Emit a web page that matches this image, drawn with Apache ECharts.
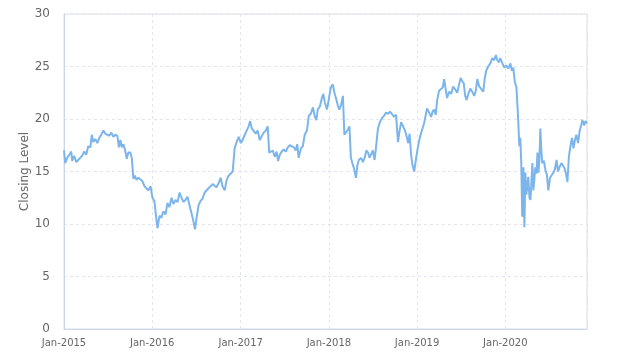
<!DOCTYPE html>
<html>
<head>
<meta charset="utf-8">
<script src="https://cdn.jsdelivr.net/npm/echarts@6/dist/echarts.min.js"></script>
<style>
html,body{margin:0;padding:0;background:#fff;}
#chart{width:624px;height:362px;}
</style>
</head>
<body>
<div id="chart"></div>
<script>
const dates = [
'2015-01-01','2015-01-06','2015-01-14','2015-01-23','2015-01-31','2015-02-04','2015-02-12','2015-02-21','2015-03-05','2015-03-17','2015-03-26','2015-04-03','2015-04-11','2015-04-20','2015-04-26','2015-05-02','2015-05-10','2015-05-19','2015-05-27','2015-06-04','2015-06-13','2015-06-21','2015-06-29','2015-07-07','2015-07-16','2015-07-24','2015-08-01','2015-08-10','2015-08-16','2015-08-22','2015-08-28','2015-09-04','2015-09-12','2015-09-18','2015-09-24','2015-10-03','2015-10-09','2015-10-15','2015-10-21','2015-10-28','2015-11-05','2015-11-13','2015-11-21','2015-11-30','2015-12-08','2015-12-16','2015-12-25',
'2016-01-02','2016-01-10','2016-01-18','2016-01-23','2016-01-31','2016-02-08','2016-02-16','2016-02-25','2016-03-04','2016-03-12','2016-03-21','2016-03-29','2016-04-06','2016-04-15','2016-04-23','2016-05-01','2016-05-09','2016-05-18','2016-05-26','2016-06-03','2016-06-12','2016-06-20','2016-06-26','2016-07-02','2016-07-11','2016-07-19','2016-07-27','2016-08-05','2016-08-13','2016-08-21','2016-08-29','2016-09-07','2016-09-15','2016-09-23','2016-10-02','2016-10-10','2016-10-18','2016-10-27','2016-11-04','2016-11-12','2016-11-20','2016-11-29','2016-12-07','2016-12-15','2016-12-24',
'2017-01-02','2017-01-09','2017-01-18','2017-01-26','2017-02-03','2017-02-09','2017-02-16','2017-02-24','2017-03-04','2017-03-12','2017-03-21','2017-03-29','2017-04-06','2017-04-15','2017-04-23','2017-04-29','2017-05-05','2017-05-14','2017-05-22','2017-05-30','2017-06-05','2017-06-12','2017-06-20','2017-06-28','2017-07-07','2017-07-15','2017-07-23','2017-07-31','2017-08-09','2017-08-17','2017-08-23','2017-08-29','2017-09-07','2017-09-15','2017-09-23','2017-10-02','2017-10-10','2017-10-18','2017-10-27','2017-11-04','2017-11-10','2017-11-16','2017-11-25','2017-12-03','2017-12-09','2017-12-15','2017-12-24','2017-12-31',
'2018-01-09','2018-01-17','2018-01-24','2018-01-30','2018-02-07','2018-02-13','2018-02-20','2018-02-28','2018-03-06','2018-03-12','2018-03-21','2018-03-27','2018-04-02','2018-04-08','2018-04-15','2018-04-23','2018-04-29','2018-05-05','2018-05-14','2018-05-22','2018-05-30','2018-06-05','2018-06-12','2018-06-18','2018-06-24','2018-07-02','2018-07-09','2018-07-15','2018-07-23','2018-07-31','2018-08-09','2018-08-17','2018-08-25','2018-09-03','2018-09-11','2018-09-19','2018-09-28','2018-10-06','2018-10-14','2018-10-20','2018-10-27','2018-11-04','2018-11-10','2018-11-16','2018-11-25','2018-12-01','2018-12-07','2018-12-13','2018-12-20','2018-12-28',
'2019-01-05','2019-01-13','2019-01-22','2019-01-30','2019-02-05','2019-02-11','2019-02-20','2019-02-28','2019-03-06','2019-03-12','2019-03-19','2019-03-25','2019-04-02','2019-04-10','2019-04-17','2019-04-23','2019-04-29','2019-05-05','2019-05-14','2019-05-22','2019-05-30','2019-06-08','2019-06-16','2019-06-24','2019-06-30','2019-07-07','2019-07-13','2019-07-19','2019-07-25','2019-08-01','2019-08-09','2019-08-17','2019-08-25','2019-09-01','2019-09-07','2019-09-15','2019-09-23','2019-10-02','2019-10-08','2019-10-14','2019-10-22','2019-10-31','2019-11-08','2019-11-16','2019-11-23','2019-11-29','2019-12-05','2019-12-11','2019-12-20','2019-12-28',
'2020-01-05','2020-01-13','2020-01-22','2020-01-28','2020-02-03','2020-02-09','2020-02-16','2020-02-20','2020-02-24','2020-02-28','2020-03-03','2020-03-07','2020-03-11','2020-03-16','2020-03-20','2020-03-24','2020-03-28','2020-04-01','2020-04-05','2020-04-10','2020-04-14','2020-04-18','2020-04-22','2020-04-26','2020-04-30','2020-05-04','2020-05-09','2020-05-13','2020-05-17','2020-05-21','2020-05-25','2020-05-29','2020-06-02','2020-06-09','2020-06-15','2020-06-21','2020-06-27','2020-07-04','2020-07-10','2020-07-18','2020-07-24','2020-07-31','2020-08-06','2020-08-12','2020-08-20','2020-08-27','2020-09-02','2020-09-08','2020-09-14','2020-09-20','2020-09-27','2020-10-03','2020-10-09','2020-10-15','2020-10-21','2020-10-28','2020-11-03','2020-11-09','2020-11-15','2020-11-22','2020-11-28','2020-12-04'
];
const closing = [
17.0,15.8,16.3,16.6,16.9,16.0,16.5,15.9,16.2,16.5,16.9,16.6,17.4,17.3,18.5,17.8,18.1,17.7,18.2,18.5,18.9,18.6,18.7,18.4,18.7,18.3,18.5,18.4,17.3,18.0,17.3,17.6,16.9,16.2,16.8,16.8,16.2,14.3,14.6,14.2,14.4,14.3,14.1,13.6,13.7,13.2,13.6,
12.5,12.2,10.5,9.6,10.8,10.6,11.2,10.9,12.0,11.6,12.5,11.9,12.3,12.1,13.0,12.5,12.1,12.3,12.6,11.8,11.0,10.2,9.5,10.5,11.8,12.2,12.4,13.0,12.9,13.4,13.5,13.8,13.7,13.5,13.9,14.4,13.6,13.2,14.2,14.6,14.6,15.0,17.2,17.8,18.3,
17.7,18.0,18.5,18.9,19.3,19.8,19.1,19.0,18.6,18.9,18.0,17.9,18.7,18.9,19.3,16.8,16.7,17.0,16.4,16.9,16.0,16.6,16.9,17.1,16.9,17.3,17.5,17.6,17.3,17.0,17.6,16.3,17.2,17.4,18.5,18.9,20.3,20.5,21.1,20.2,19.9,20.9,21.2,22.0,22.4,21.6,20.9,21.8,
23.0,23.3,22.5,22.0,21.3,20.9,21.3,22.2,18.5,18.7,19.0,19.3,16.3,15.8,15.3,14.4,15.6,16.1,16.3,15.9,16.4,17.0,16.8,16.3,16.6,17.0,16.1,17.3,19.1,19.7,20.1,20.3,20.6,20.5,20.7,20.6,20.2,20.4,17.8,18.8,19.7,19.3,19.0,18.6,17.7,18.6,16.6,15.6,15.0,16.3,
17.4,18.3,19.0,19.6,20.3,21.0,20.6,20.2,20.7,20.9,20.4,21.8,22.7,22.6,23.0,23.8,22.9,22.0,22.6,22.4,23.1,22.8,22.5,23.3,23.9,23.6,23.4,22.2,21.8,22.4,22.9,22.6,22.2,22.7,23.8,23.1,23.0,22.6,23.9,24.6,25.0,25.3,25.8,25.6,26.1,25.6,25.4,25.8,25.3,24.9,
25.1,24.8,25.3,24.6,24.9,23.6,23.0,21.4,19.6,17.4,18.2,15.8,10.7,15.4,9.7,14.9,12.8,13.5,14.5,12.5,12.3,14.0,15.8,13.2,14.2,15.4,14.8,16.8,14.9,16.0,19.1,17.0,15.8,16.0,15.1,14.7,13.2,14.4,14.3,14.9,15.2,16.1,15.0,15.4,15.8,15.9,15.3,14.8,14.0,16.4,17.5,18.2,17.2,18.0,18.5,17.7,18.8,19.3,19.9,19.4,19.8,19.6
];
const yTicks = [0, 5, 10, 15, 20, 25, 30];
const yTitle = 'Closing Level';

const chart = echarts.init(document.getElementById('chart'));
const seriesData = dates.map((d, i) => [d, closing[i]]);
chart.setOption({
  animation: false,
  grid: {left: 64, right: 37, top: 14, bottom: 33, show: true, borderColor: '#d8dde6', borderWidth: 1},
  xAxis: {
    type: 'time',
    min: '2015-01-01',
    max: dates[dates.length - 1],
    minInterval: 365 * 24 * 3600 * 1000,
    splitNumber: 6,
    axisLine: {lineStyle: {color: '#ccd6eb'}},
    axisTick: {show: false},
    axisLabel: {
      color: '#666', fontSize: 10, fontFamily: 'DejaVu Sans', margin: 9, hideOverlap: false,
      formatter: function (v) {
        const d = new Date(v);
        return d.getMonth() === 0 ? 'Jan-' + d.getFullYear() : '';
      }
    },
    splitLine: {show: true, lineStyle: {color: '#e3e6ee', type: [3, 3]}}
  },
  yAxis: {
    type: 'value',
    min: yTicks[0], max: yTicks[yTicks.length - 1], interval: 5,
    name: yTitle, nameLocation: 'middle', nameGap: 33, nameMoveOverlap: false,
    nameTextStyle: {color: '#666', fontSize: 12, fontFamily: 'DejaVu Sans'},
    axisLine: {show: true, lineStyle: {color: '#ccd6eb'}},
    axisTick: {show: false},
    axisLabel: {color: '#666', fontSize: 12, fontFamily: 'DejaVu Sans', margin: 14},
    splitLine: {show: true, lineStyle: {color: '#e3e6ee', type: [3, 3]}}
  },
  series: [{
    type: 'line',
    data: seriesData,
    showSymbol: false,
    lineStyle: {color: '#7cb5ec', width: 2},
    itemStyle: {color: '#7cb5ec'}
  }]
});
</script>
</body>
</html>
